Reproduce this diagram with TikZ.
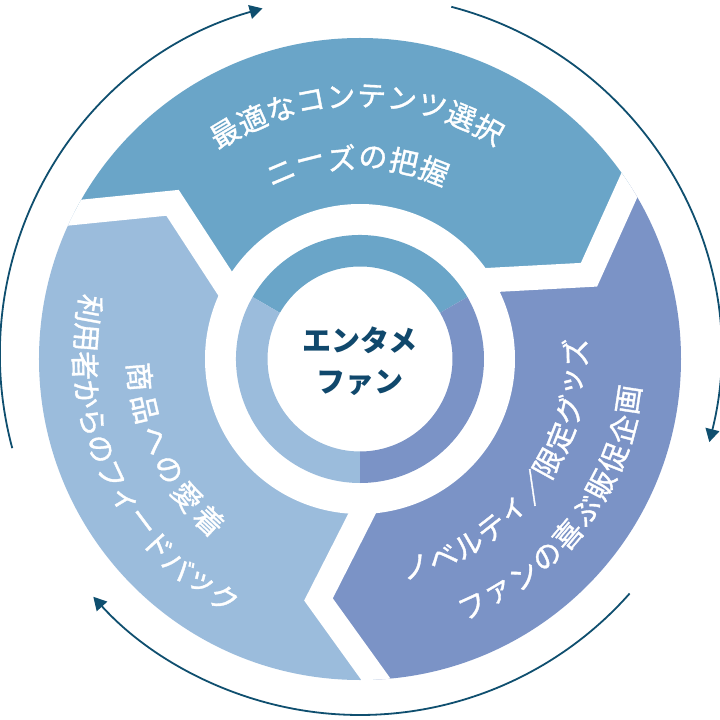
\documentclass[tikz,border=0pt]{standalone}
\usepackage{fontspec}
\newfontfamily\jp{Noto Sans CJK JP}
\newfontfamily\jpm{Noto Sans CJK JP}[FakeBold=1.2]
\usetikzlibrary{arrows.meta,calc}
\definecolor{cTeal}{RGB}{106,165,200}
\definecolor{cPurple}{RGB}{123,147,198}
\definecolor{cLight}{RGB}{155,188,220}
\definecolor{cNavy}{RGB}{16,72,108}
\definecolor{cArrow}{RGB}{15,79,111}
\begin{document}
\begin{tikzpicture}[x=1pt,y=1pt,
  seglabel/.style={text=white, font=\jpm\fontsize{29}{29}\selectfont, inner sep=0pt, anchor=center},
  centerlabel/.style={text=cNavy, font=\jp\bfseries\fontsize{29}{29}\selectfont, inner sep=0pt},
  gapline/.style={white, line width=24.5pt, line join=miter},
  cyclearrow/.style={cArrow, line width=1.8pt, -{Triangle[length=13pt,width=14pt]}}]
\useasboundingbox (-360,-361) rectangle (360,359);
\fill[white] (-360,-361) rectangle (360,359);
% chevron boundary points
\foreach \k in {0,1,2}{
  \coordinate (O\k) at ({33-120*\k}:322);
  \coordinate (T\k) at ({20.2-120*\k}:244);
  \coordinate (I\k) at ({30.5-120*\k}:156);
}
% outer segments
\begin{scope}
\clip (0,0) circle (321);
\fill[cTeal] (0,0) -- (I2) -- (T2) -- (O2) -- (153:600) -- (93:800) -- (33:600) -- (O0) -- (T0) -- (I0) -- cycle;
\fill[cPurple] (0,0) -- (I0) -- (T0) -- (O0) -- (33:600) -- (-27:800) -- (-87:600) -- (O1) -- (T1) -- (I1) -- cycle;
\fill[cLight] (0,0) -- (I1) -- (T1) -- (O1) -- (-87:600) -- (-147:800) -- (-207:600) -- (O2) -- (T2) -- (I2) -- cycle;
\foreach \k in {0,1,2}
  \draw[gapline] ($(T\k)!1.6!(I\k)$) -- (T\k) -- ($(T\k)!1.5!(O\k)$);
\end{scope}
\fill[white] (0,0) circle (155);
% inner ring
\fill[cTeal] (30:124) arc[start angle=30, end angle=150, radius=124] -- (150:92.5) arc[start angle=150, end angle=30, radius=92.5] -- cycle;
\fill[cLight] (150:124) arc[start angle=150, end angle=270, radius=124] -- (270:92.5) arc[start angle=270, end angle=150, radius=92.5] -- cycle;
\fill[cPurple] (270:124) arc[start angle=270, end angle=390, radius=124] -- (30:92.5) arc[start angle=390, end angle=270, radius=92.5] -- cycle;
% center text
\node[centerlabel] (c1) at (0,19) {エンタメ};
\node[centerlabel] (c2) at (0,-24) {ファン};
% top segment text
\foreach \c [count=\i] in {最,適,な,コ,ン,テ,ン,ツ,選,択}
  \node[seglabel, rotate={120.9-6.69*(\i-1)-90}] (ta\i) at ({120.9-6.69*(\i-1)}:263) {\c};
\foreach \c [count=\i] in {ニ,ー,ズ,の,把,握}
  \node[seglabel, rotate={113-8.9*(\i-1)-90}] (tb\i) at ({113-8.9*(\i-1)}:202) {\c};
% right segment text
\foreach \c [count=\i] in {ノ,ベ,ル,テ,ィ,／,限,定,グ,ッ,ズ}
  \node[seglabel, rotate={-75+7.66*(\i-1)+90}] (ra\i) at ({-75+7.66*(\i-1)}:215) {\c};
\foreach \c [count=\i] in {フ,ァ,ン,の,喜,ぶ,販,促,企,画}
  \node[seglabel, rotate={-65.5+6.32*(\i-1)+90}] (rb\i) at ({-65.5+6.32*(\i-1)}:272) {\c};
% left segment text
\foreach \c [count=\i] in {商,品,へ,の,愛,着}
  \node[seglabel, rotate={184.6+8.48*(\i-1)+90}] (la\i) at ({184.6+8.48*(\i-1)}:221) {\c};
\foreach \c [count=\i] in {利,用,者,か,ら,の,フ,ィ,ー,ド,バ,ッ,ク}
  \node[seglabel, rotate={169.6+5.9*(\i-1)+90}] (lb\i) at ({169.6+5.9*(\i-1)}:275) {\c};
% cycle arrows
\draw[cyclearrow] ($(0,4)+(75.3:360)$) arc[start angle=75.3, end angle=-14, radius=360];
\draw[cyclearrow] ($(0,4)+(-41.5:360)$) arc[start angle=-41.5, end angle=-137.8, radius=360];
\draw[cyclearrow] ($(0,4)+(195:360)$) arc[start angle=195, end angle=105.7, radius=360];
\end{tikzpicture}
\end{document}
